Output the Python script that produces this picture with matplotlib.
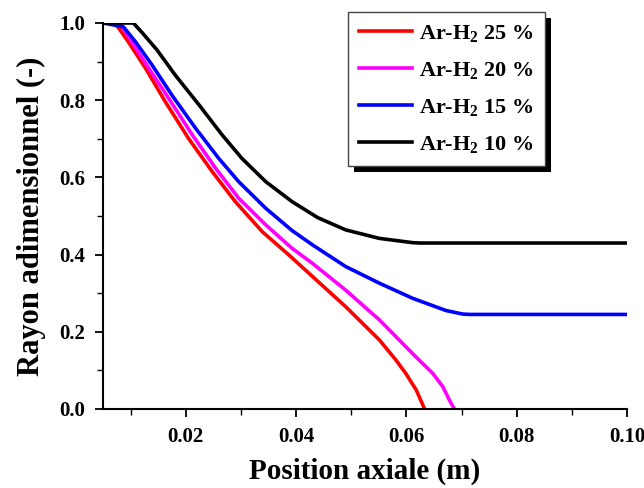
import matplotlib
matplotlib.use('agg')
import matplotlib.pyplot as plt
from matplotlib.patches import Rectangle
from matplotlib.ticker import MultipleLocator, FormatStrFormatter

# Données (position axiale en m, rayon adimensionnel)
x_25 = [0.005, 0.0072, 0.0096, 0.0127, 0.0163, 0.0205, 0.0248, 0.0290, 0.0339, 0.0387,
        0.0430, 0.0490, 0.0551, 0.0581, 0.0599, 0.0618, 0.0633]
y_25 = [1.0, 1.0, 0.951, 0.883, 0.796, 0.701, 0.615, 0.537, 0.459, 0.399,
        0.343, 0.265, 0.179, 0.127, 0.092, 0.049, 0.0]

x_20 = [0.005, 0.0081, 0.0102, 0.0133, 0.0169, 0.0212, 0.0254, 0.0296, 0.0345, 0.0393,
        0.0430, 0.0490, 0.0551, 0.0611, 0.0648, 0.0666, 0.0678, 0.0687]
y_20 = [1.0, 1.0, 0.951, 0.883, 0.805, 0.710, 0.624, 0.546, 0.477, 0.416,
        0.377, 0.308, 0.231, 0.144, 0.092, 0.058, 0.023, 0.0]

x_15 = [0.005, 0.0087, 0.0109, 0.0139, 0.0175, 0.0218, 0.0260, 0.0296, 0.0345, 0.0393,
        0.0430, 0.0490, 0.0551, 0.0611, 0.0672, 0.0702, 0.0715, 0.100]
y_15 = [1.0, 0.990, 0.951, 0.891, 0.813, 0.727, 0.649, 0.589, 0.520, 0.462,
        0.425, 0.369, 0.326, 0.287, 0.255, 0.246, 0.245, 0.245]

x_10 = [0.005, 0.0105, 0.0121, 0.0148, 0.0181, 0.0224, 0.0266, 0.0302, 0.0345, 0.0393,
        0.0439, 0.0490, 0.0551, 0.0611, 0.0624, 0.100]
y_10 = [1.0, 1.0, 0.975, 0.930, 0.865, 0.788, 0.710, 0.649, 0.589, 0.537,
        0.496, 0.464, 0.442, 0.431, 0.430, 0.430]

labels = ['Ar-H$_2$ 25 %', 'Ar-H$_2$ 20 %', 'Ar-H$_2$ 15 %', 'Ar-H$_2$ 10 %']
colors = ['#ff0000', '#ff00ff', '#0000ff', '#000000']

plt.rcParams['font.family'] = ['Liberation Serif', 'DejaVu Serif']
plt.rcParams['font.weight'] = 'bold'
plt.rcParams['mathtext.fontset'] = 'custom'
plt.rcParams['mathtext.rm'] = 'Liberation Serif:bold'
plt.rcParams['mathtext.bf'] = 'Liberation Serif:bold'
plt.rcParams['mathtext.it'] = 'Liberation Serif:bold'

fig = plt.figure(figsize=(6.44, 4.88), dpi=100)
ax = fig.add_axes([103 / 644, 1 - 409 / 488, 524 / 644, 386 / 488])

series = [(x_25, y_25), (x_20, y_20), (x_15, y_15), (x_10, y_10)]
for (xs, ys), lab, col in zip(series, labels, colors):
    ax.plot(xs, ys, color=col, lw=2.6, label=lab, solid_joinstyle='round')

ax.set_xlim(0.005, 0.1)
ax.set_ylim(0.0, 1.0)
ax.xaxis.set_major_locator(MultipleLocator(0.02))
ax.xaxis.set_minor_locator(MultipleLocator(0.01))
ax.yaxis.set_major_locator(MultipleLocator(0.2))
ax.yaxis.set_minor_locator(MultipleLocator(0.1))
ax.xaxis.set_major_formatter(FormatStrFormatter('%.2f'))
ax.yaxis.set_major_formatter(FormatStrFormatter('%.1f'))

for s in ['top', 'right']:
    ax.spines[s].set_visible(False)
for s in ['left', 'bottom']:
    ax.spines[s].set_linewidth(1.5)
ax.tick_params(which='major', direction='out', length=6, width=1.3, labelsize=15, pad=7)
ax.tick_params(which='minor', direction='out', length=4, width=1.0)
for t in ax.get_xticklabels() + ax.get_yticklabels():
    t.set_fontweight('bold')

ax.set_xlabel('Position axiale (m)', fontsize=21, fontweight='bold', labelpad=8)
ax.set_ylabel('Rayon adimensionnel (-)', fontsize=22, fontweight='bold', labelpad=9)

leg = ax.legend(loc='upper left', bbox_to_anchor=(348 / 644, 1 - 12 / 488),
                bbox_transform=fig.transFigure, fancybox=False, shadow=False,
                framealpha=1, edgecolor='#444444', fontsize=16,
                handlelength=2.4, handletextpad=0.3, labelspacing=0.72,
                borderpad=0.5, borderaxespad=0)
leg.get_frame().set_linewidth(1.0)
leg.set_zorder(10)

# Ombre noire décalée sous la légende
fig.canvas.draw()
bb = leg.get_window_extent().transformed(fig.transFigure.inverted())
dx, dy = 6 / 644, 6 / 488
shadow = Rectangle((bb.x0 + dx, bb.y0 - dy), bb.width, bb.height,
                   transform=fig.transFigure, facecolor='black', edgecolor='none',
                   zorder=9, clip_on=False)
ax.add_patch(shadow)

fig.savefig('out.png', dpi=100)
